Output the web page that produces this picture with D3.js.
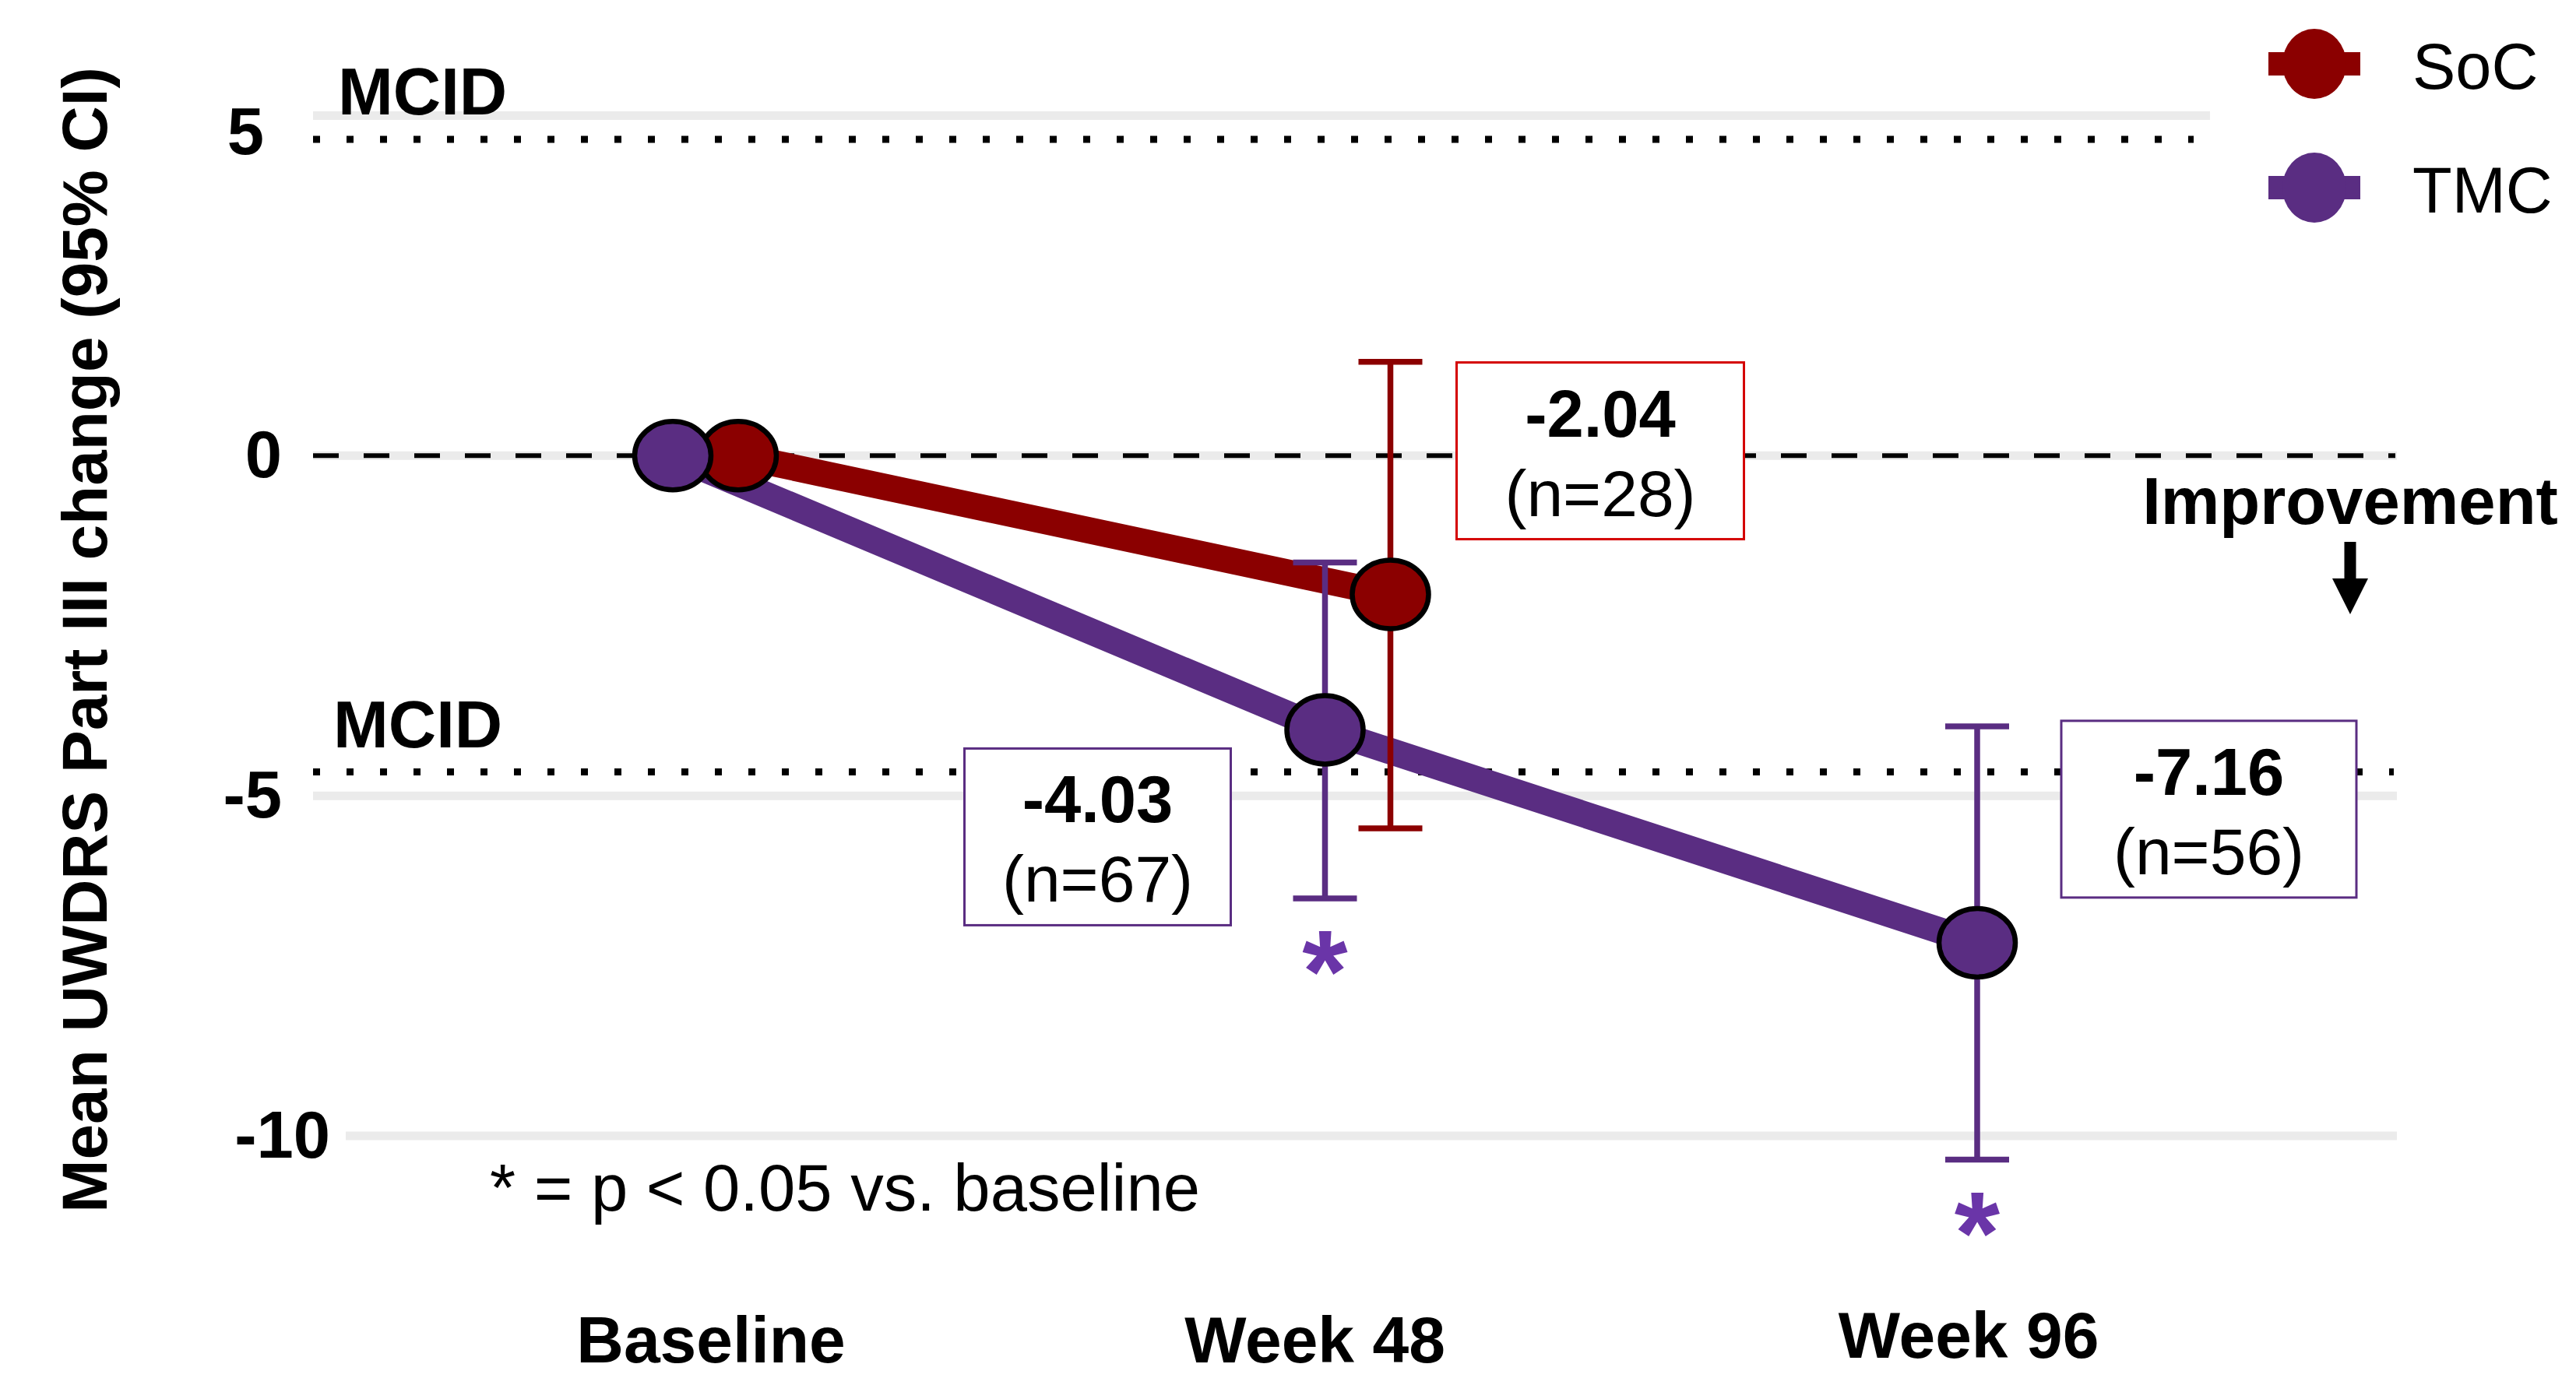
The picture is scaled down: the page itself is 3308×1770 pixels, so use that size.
<!DOCTYPE html>
<html lang="en">
    <head>
        <meta charset="utf-8">
        <title>Mean UWDRS Part III change</title>
        <script src="https://cdnjs.cloudflare.com/ajax/libs/d3/7.8.5/d3.min.js" charset="utf-8"></script>
        <style>
        body {
          margin: 0;
          background: #fff;
          font-family: 'Liberation Sans', Arial, sans-serif;
        }
        svg {
          display: block;
        }
        .bold {
          font-weight: bold;
        }
        </style>
    </head>
    <body>
        <svg></svg>

        <script type="text/javascript">
          // chart values
          var categories = ["Baseline", "Week 48", "Week 96"];
          var seriesNames = ["SoC", "TMC"];
          var seriesColors = ["#8b0000", "#5a2d82"];

          var socMean = [0, -2.04];
          var socLower = [null, -5.48];
          var socUpper = [null, 1.38];

          var tmcMean = [0, -4.03, -7.16];
          var tmcLower = [null, -6.51, -10.35];
          var tmcUpper = [null, -1.57, -3.98];
          var tmcSignificant = [false, true, true];

          var yTicks = [5, 0, -5, -10];
          var mcid = 4.65;

          // boxed labels next to the points
          var boxValues = ["-2.04", "-4.03", "-7.16"];
          var boxN = ["(n=28)", "(n=67)", "(n=56)"];
          var boxSeries = ["SoC", "TMC", "TMC"];
          var boxCategory = ["Week 48", "Week 48", "Week 96"];

          var width = 3308;
          var height = 1770;
          var left = 402;
          var right = 3078;

          var svg = d3.select("svg")
              .attr("width", width)
              .attr("height", height);

          var xScale = d3.scalePoint()
                               .domain(categories)
                               .range([906, 2581]);

          // TMC sits left of the category, SoC right
          var dodge = {"SoC": 42, "TMC": -42};

          var yScale = d3.scaleLinear()
                               .domain([5, -10])
                               .range([148.5, 1459]);

          var colorScale = d3.scaleOrdinal()
                               .domain(seriesNames)
                               .range(seriesColors);

          function makeRows(name, mean, lower, upper) {
              return mean.map(function(m, i) {
                  return {series: name, cat: categories[i], mean: m, lower: lower[i], upper: upper[i]};
              });
          }
          var soc = makeRows("SoC", socMean, socLower, socUpper);
          var tmc = makeRows("TMC", tmcMean, tmcLower, tmcUpper);

          var px = function(d) { return xScale(d.cat) + dodge[d.series]; };

          // grey grid lines (top one is cut short by the legend)
          svg.append("g")
            .selectAll("line")
            .data(yTicks)
            .enter()
            .append("line")
              .attr("x1", d => d === -10 ? 444 : left)
              .attr("x2", d => d === 5 ? 2838 : right)
              .attr("y1", d => yScale(d))
              .attr("y2", d => yScale(d))
              .attr("stroke", "#ebebeb")
              .attr("stroke-width", 11);

          // zero line
          svg.append("line")
              .attr("x1", left)
              .attr("x2", 3076)
              .attr("y1", yScale(0))
              .attr("y2", yScale(0))
              .attr("stroke", "#000")
              .attr("stroke-width", 6)
              .attr("stroke-dasharray", "33,32");

          // MCID dotted lines
          var mcidLines = [{v: mcid, end: 2817}, {v: -mcid, end: 3074}];
          svg.append("g")
            .selectAll("line")
            .data(mcidLines)
            .enter()
            .append("line")
              .attr("x1", left)
              .attr("x2", d => d.end)
              .attr("y1", d => yScale(d.v))
              .attr("y2", d => yScale(d.v))
              .attr("stroke", "#000")
              .attr("stroke-width", 9)
              .attr("stroke-dasharray", "9,34");

          svg.append("g")
            .selectAll("text")
            .data(mcidLines)
            .enter()
            .append("text")
              .attr("class", "bold")
              .attr("x", (d, i) => i === 0 ? 434 : 428)
              .attr("y", d => yScale(d.v) - 32)
              .style("font-size", "85px")
              .text("MCID");

          // y axis labels
          var yAxis = d3.axisLeft(yScale)
                              .tickValues(yTicks)
                              .tickSize(0)
                              .tickPadding(40)
                              .tickFormat(d => String(d));

          var yAxisG = svg.append("g")
              .attr("transform", "translate(" + left + ",0)")
              .call(yAxis);
          yAxisG.select(".domain").remove();
          // the original has the 5 label sitting low and -10 pushed right
          yAxisG.selectAll("text")
              .attr("class", "bold")
              .attr("x", d => d === -10 ? 22 : d === 5 ? -63 : -40)
              .attr("dy", d => d === 5 ? "0.58em" : "0.32em")
              .style("font-size", "85px")
              .style("font-family", "'Liberation Sans', Arial, sans-serif")
              .attr("fill", "#000");

          // y axis title
          svg.append("text")
              .attr("class", "bold")
              .attr("transform", "translate(137," + 822 + ") rotate(-90)")
              .style("text-anchor", "middle")
              .style("font-size", "82px")
              .text("Mean UWDRS Part III change (95% CI)");

          // x labels, nudged like the original
          var labelNudge = [7, -55, -53];
          svg.append("g")
            .selectAll("text")
            .data(categories)
            .enter()
            .append("text")
              .attr("class", "bold")
              .attr("x", (d, i) => xScale(d) + labelNudge[i])
              .attr("y", (d, i) => i === 2 ? 1744 : 1750)
              .style("text-anchor", "middle")
              .style("font-size", "84px")
              .text(d => d);

          // lines
          var line = d3.line()
                             .x(px)
                             .y(d => yScale(d.mean));

          svg.append("g")
            .selectAll("path")
            .data([tmc, soc])
            .enter()
            .append("path")
              .attr("d", line)
              .attr("fill", "none")
              .attr("stroke", d => colorScale(d[0].series))
              .attr("stroke-width", 34);

          // error bars
          var withCI = soc.concat(tmc).filter(d => d.lower !== null);
          var bars = svg.append("g")
            .selectAll("g")
            .data(withCI)
            .enter()
            .append("g")
              .attr("stroke", d => colorScale(d.series))
              .attr("stroke-width", 7.5);

          bars.append("line")
              .attr("x1", px).attr("x2", px)
              .attr("y1", d => yScale(d.upper))
              .attr("y2", d => yScale(d.lower));
          bars.append("line")
              .attr("x1", d => px(d) - 41).attr("x2", d => px(d) + 41)
              .attr("y1", d => yScale(d.upper))
              .attr("y2", d => yScale(d.upper));
          bars.append("line")
              .attr("x1", d => px(d) - 41).attr("x2", d => px(d) + 41)
              .attr("y1", d => yScale(d.lower))
              .attr("y2", d => yScale(d.lower));

          // points, TMC on top
          svg.append("g")
            .selectAll("ellipse")
            .data(soc.concat(tmc))
            .enter()
            .append("ellipse")
              .attr("cx", px)
              .attr("cy", d => yScale(d.mean))
              .attr("rx", 49)
              .attr("ry", 44)
              .attr("fill", d => colorScale(d.series))
              .attr("stroke", "#000")
              .attr("stroke-width", 6.5);

          // significance stars
          svg.append("g")
            .selectAll("text")
            .data(tmc.filter((d, i) => tmcSignificant[i]))
            .enter()
            .append("text")
              .attr("class", "bold")
              .attr("x", px)
              .attr("y", d => yScale(d.lower) + 74 + 72)
              .style("text-anchor", "middle")
              .style("font-size", "150px")
              .attr("fill", "#6a35a8")
              .text("*");

          // boxed value labels
          var boxLayout = [
              {dx: 85, dy: -298, w: 369},
              {dx: -463, dy: 24, w: 342},
              {dx: 108, dy: -285, w: 379}
          ];
          var boxes = svg.append("g")
            .selectAll("g")
            .data(boxValues)
            .enter()
            .append("g")
              .attr("transform", function(d, i) {
                  var src = boxSeries[i] === "SoC" ? soc : tmc;
                  var pt = src[categories.indexOf(boxCategory[i])];
                  return "translate(" + (px(pt) + boxLayout[i].dx) + "," + (yScale(pt.mean) + boxLayout[i].dy) + ")";
              });

          boxes.append("rect")
              .attr("width", (d, i) => boxLayout[i].w)
              .attr("height", 227)
              .attr("fill", "#fff")
              .attr("stroke", (d, i) => boxSeries[i] === "SoC" ? "#d40000" : colorScale("TMC"))
              .attr("stroke-width", 3);

          boxes.append("text")
              .attr("class", "bold")
              .attr("x", (d, i) => boxLayout[i].w / 2)
              .attr("y", 95)
              .style("text-anchor", "middle")
              .style("font-size", "85px")
              .text(d => d);

          boxes.append("text")
              .attr("x", (d, i) => boxLayout[i].w / 2)
              .attr("y", 197)
              .style("text-anchor", "middle")
              .style("font-size", "84px")
              .text((d, i) => boxN[i]);

          // footnote
          svg.append("text")
              .attr("x", 629)
              .attr("y", 1555)
              .style("font-size", "85px")
              .text("* = p < 0.05 vs. baseline");

          // improvement arrow
          svg.append("text")
              .attr("class", "bold")
              .attr("x", 3018)
              .attr("y", 673)
              .style("text-anchor", "middle")
              .style("font-size", "85px")
              .text("Improvement");

          svg.append("path")
              .attr("d", "M3010.5,696 H3025.5 V743 H3041 L3018,789 L2995,743 H3010.5 Z")
              .attr("fill", "#000");

          // legend
          var legend = svg.append("g")
            .selectAll("g")
            .data(seriesNames)
            .enter()
            .append("g")
              .attr("transform", (d, i) => "translate(2972," + (82 + i * 159) + ")");

          legend.append("line")
              .attr("x1", -59).attr("x2", 59)
              .attr("stroke", d => colorScale(d))
              .attr("stroke-width", 30);

          legend.append("ellipse")
              .attr("rx", 41)
              .attr("ry", 45)
              .attr("fill", d => colorScale(d));

          legend.append("text")
              .attr("x", 126)
              .attr("y", 32)
              .style("font-size", "83px")
              .text(d => d);
        </script>
    </body>
</html>
